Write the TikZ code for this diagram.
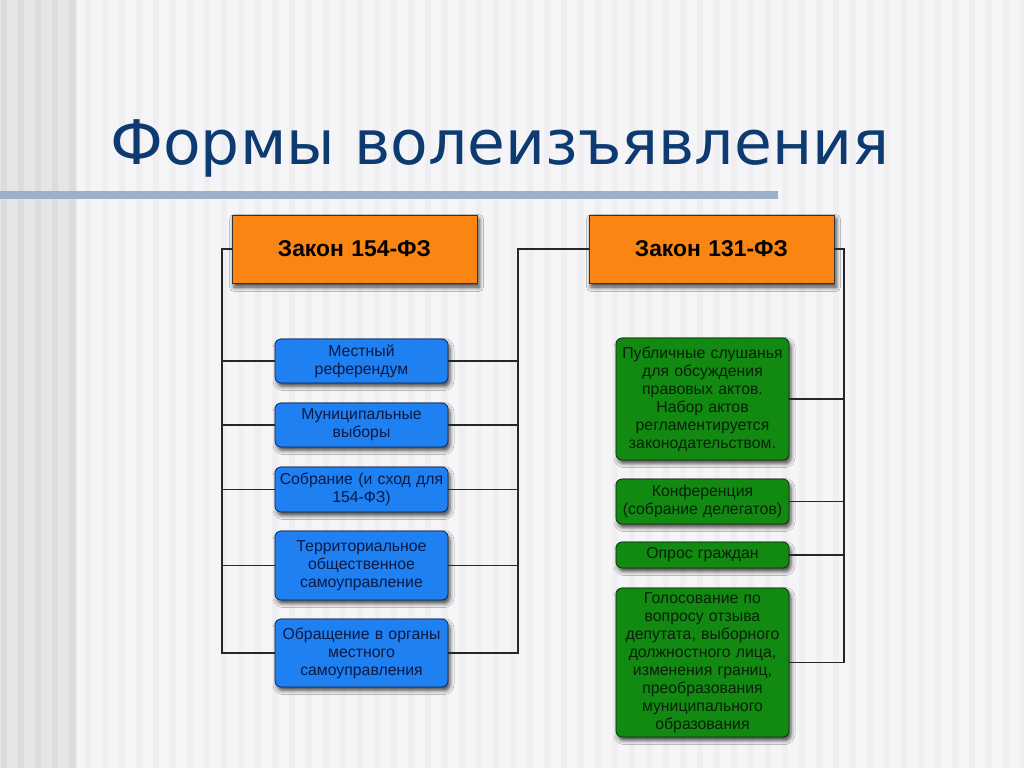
\documentclass[tikz,border=0pt]{standalone}
\usepackage{fontspec}
\setmainfont{Liberation Sans}
\newfontfamily\titlefont{DejaVu Sans}
\usepackage{tikz}
\usetikzlibrary{shapes, arrows, shadows.blur}
\definecolor{titleblue}{HTML}{0D3A70}
\definecolor{ruleblue}{HTML}{9DB0CB}
\definecolor{zakonfill}{HTML}{FA8512}
\definecolor{formfill}{HTML}{1F80F2}
\definecolor{formline}{HTML}{0B2150}
\definecolor{formtext}{HTML}{0A1A45}
\definecolor{oprosfill}{HTML}{128A12}
\definecolor{oprosline}{HTML}{0B2A0B}
\definecolor{oprostext}{HTML}{072007}
\definecolor{paper}{HTML}{F5F5F7}
\definecolor{paperstripe}{HTML}{EFEFF1}
\definecolor{band}{HTML}{E6E6E8}
\definecolor{bandstripe}{HTML}{DCDCDE}
\tikzstyle{zakon} = [rectangle, draw=black!80, fill=zakonfill, 
    text width=4.9cm, inner sep=0pt, text centered, minimum height=1.36cm,
    font=\fontsize{13}{15}\selectfont\bfseries,
    blur shadow={shadow xshift=0.04cm, shadow yshift=-0.08cm, shadow blur radius=0.09cm, shadow opacity=75}]
\tikzstyle{forma} = [rectangle, rounded corners=0.12cm, draw=formline, fill=formfill, text=formtext,
    text width=3.4cm, inner xsep=0.03cm, inner ysep=0pt, text centered,
    font=\fontsize{9}{10.2}\selectfont,
    blur shadow={shadow xshift=0.04cm, shadow yshift=-0.07cm, shadow blur radius=0.08cm, shadow opacity=70}]
\tikzstyle{opros} = [forma, draw=oprosline, fill=oprosfill, text=oprostext]
\tikzstyle{link} = [draw, black!85, line width=0.7pt]

\begin{document}
\begin{tikzpicture}
    % Background
    \useasboundingbox[fill=paper] (0,0) rectangle (20.48,-15.36);
    \foreach \i in {5,...,60}
        \fill[paperstripe] ({\i*0.34},0) rectangle ({\i*0.34+0.13},-15.36);
    \fill[band] (0,0) rectangle (1.54,-15.36);
    \foreach \i in {0,...,4}
        \fill[bandstripe] ({\i*0.34+0.02},0) rectangle ({\i*0.34+0.14},-15.36);
    % Title
    \node[anchor=base west, inner sep=0pt, text=titleblue,
        font=\titlefont\fontsize{35}{40}\selectfont] (title) at (2.2,-3.30) {Формы волеизъявления};
    \fill[ruleblue] (0,-3.83) rectangle (15.56,-3.99);
    % Nodes
    \node [zakon] (z154) at (7.09,-4.98) {Закон 154-ФЗ};
    \node [zakon, right of=z154, node distance=7.14cm] (z131) {Закон 131-ФЗ};
    \node [forma, minimum height=0.88cm] (b1) at (7.23,-7.22) {Местный\\референдум};
    \node [forma, minimum height=0.88cm, below of=b1, node distance=1.28cm] (b2) {Муниципальные\\выборы};
    \node [forma, minimum height=0.90cm, below of=b2, node distance=1.29cm] (b3) {Собрание (и сход для\\154-ФЗ)};
    \node [forma, minimum height=1.38cm, below of=b3, node distance=1.52cm] (b4) {Территориальное\\общественное\\самоуправление};
    \node [forma, minimum height=1.36cm, below of=b4, node distance=1.75cm] (b5) {Обращение в органы\\местного\\самоуправления};
    \node [opros, minimum height=2.44cm] (g1) at (14.05,-7.98) {Публичные слушанья\\для обсуждения\\правовых актов.\\Набор актов\\регламентируется\\законодательством.};
    \node [opros, minimum height=0.90cm, below of=g1, node distance=2.05cm] (g2) {Конференция\\(собрание делегатов)};
    \node [opros, minimum height=0.52cm, below of=g2, node distance=1.07cm] (g3) {Опрос граждан};
    \node [opros, minimum height=2.98cm, below of=g3, node distance=2.15cm] (g4) {Голосование по\\вопросу отзыва\\депутата, выборного\\должностного лица,\\изменения границ,\\преобразования\\муниципального\\образования};
    % Buses
    \coordinate (lbus) at (4.44,0);
    \coordinate (mbus) at (10.36,0);
    \coordinate (rbus) at (16.88,0);
    % Edges
    \path [link] (z154.west) -- (z154.west -| lbus) |- (b5.west);
    \foreach \b in {b1,b2,b3,b4}
        \path [link] (\b.west) -- (\b.west -| lbus);
    \path [link] (z131.west) -- (z131.west -| mbus) |- (b5.east);
    \foreach \b in {b1,b2,b3,b4}
        \path [link] (\b.east) -- (\b.east -| mbus);
    \path [link] (z131.east) -- (z131.east -| rbus) |- (g4.east);
    \foreach \g in {g1,g2,g3}
        \path [link] (\g.east) -- (\g.east -| rbus);
\end{tikzpicture}
\end{document}
